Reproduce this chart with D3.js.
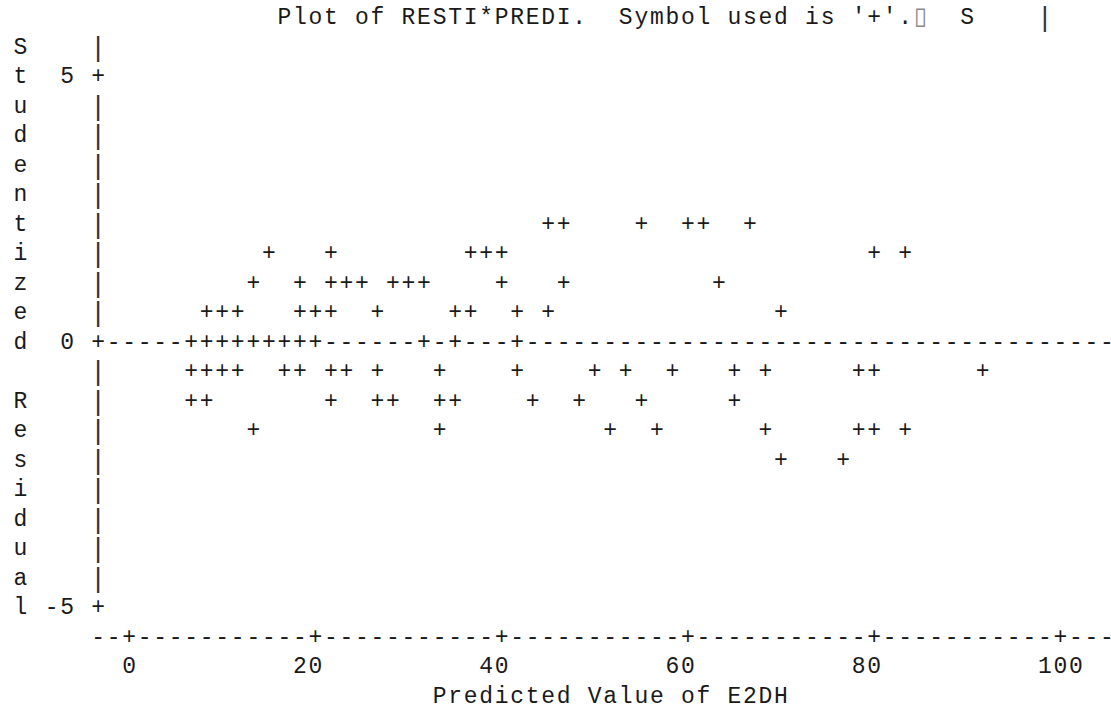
<!DOCTYPE html>
<html>
<head>
<meta charset="utf-8">
<script src="https://cdn.jsdelivr.net/npm/d3@7/dist/d3.min.js"></script>
<style>
  html, body { margin: 0; padding: 0; background: #ffffff; }
  svg { display: block; }
  .ch { font-family: "Courier New", "Nimbus Mono PS", "Liberation Mono", monospace; font-size: 23px; fill: #1a1a1a; }
  .lbl { font-family: "Courier New", "Nimbus Mono PS", "Liberation Mono", monospace; font-size: 23px; fill: #1a1a1a; letter-spacing: 1.72px; }
  .bar { font-family: "Liberation Mono", monospace; font-size: 27px; fill: #333; }
  .box { font-family: "DejaVu Sans", sans-serif; font-size: 24px; fill: #8a8a8a; }
</style>
</head>
<body>
<svg id="plot" width="1111" height="710"></svg>
<script>
// Studentized residuals against predicted values, drawn as PROC PLOT text output.

const titleText = "Plot of RESTI*PREDI.  Symbol used is '+'.";
const titleTail = "\u25AF  S    |";
const yAxisLabel = "Studentized Residual";
const xAxisLabel = "Predicted Value of E2DH";

const xTicks = [0, 20, 40, 60, 80, 100];
const xTickLabels = ["0", "20", "40", "60", "80", "100"];
const yTicks = [5, 0, -5];
const yTickLabels = ["5", "0", "-5"];
const refValue = 0;

// Observations: predicted value and studentized residual
const predicted = [
  45.0, 46.6, 55.1, 60.0, 61.6, 66.8,
  15.1, 21.6, 36.7, 38.4, 40.0, 80.1, 83.3,
  13.4, 18.2, 21.7, 23.4, 25.0, 28.2, 30.1, 31.6, 40.1, 46.7, 63.3,
  8.4, 10.0, 11.6, 18.3, 20.1, 21.7, 26.6, 35.0, 36.8, 41.6, 45.1, 70.0,
  6.7, 8.2, 10.1, 11.7, 13.4, 15.0, 16.6, 18.4, 20.0, 31.6, 35.1, 41.7,
  6.8, 8.3, 10.0, 11.6, 16.7, 18.3, 21.6, 23.4, 26.7, 33.3, 41.7, 50.1, 53.4, 58.3, 65.1, 68.2, 78.4, 80.0, 91.6,
  6.6, 8.4, 21.7, 26.6, 28.4, 33.2, 35.1, 43.3, 48.4, 55.0, 65.0,
  13.2, 33.4, 51.6, 56.7, 68.4, 78.2, 80.1, 83.4,
  70.1, 76.6
];
const residual = [
  2.21, 2.30, 2.12, 2.25, 2.18, 2.34,
  1.70, 1.62, 1.75, 1.58, 1.66, 1.71, 1.60,
  1.08, 1.15, 1.02, 1.20, 1.12, 0.98, 1.06, 1.17, 1.10, 1.04, 1.13,
  0.55, 0.61, 0.49, 0.58, 0.52, 0.63, 0.57, 0.46, 0.60, 0.53, 0.59, 0.51,
  0.12, -0.08, 0.21, -0.15, 0.05, 0.18, -0.22, 0.09, -0.04, 0.14, -0.11, 0.02,
  -0.52, -0.60, -0.47, -0.58, -0.63, -0.55, -0.50, -0.61, -0.57, -0.49, -0.64, -0.53, -0.59, -0.56, -0.62, -0.48, -0.54, -0.60, -0.51,
  -1.09, -1.14, -1.05, -1.18, -1.02, -1.12, -1.20, -1.07, -1.15, -1.10, -1.04,
  -1.66, -1.72, -1.61, -1.69, -1.58, -1.75, -1.64, -1.70,
  -2.20, -2.27
];

// Character grid geometry
const colW = 15.52, rowH = 29.5;
const colPx = d3.scaleLinear().domain([0, 1]).range([20.5, 20.5 + colW]);
const rowPx = d3.scaleLinear().domain([0, 1]).range([341, 341 + rowH]);
const baseShift = 7.5;

// Data scales onto character cells
const axisCol = 5, lastCol = 70;
const xCol = d3.scaleLinear().domain([0, 100]).range([7, 67]);
const yRow = d3.scaleLinear().domain([5, -5]).range([-9, 9]);
const cellCol = v => Math.round(xCol(v));
const cellRow = v => Math.round(yRow(v));
const topRow = cellRow(5) - 1, bottomRow = cellRow(-5);
const xAxisRow = bottomRow + 1;

const svg = d3.select("#plot");
const gText = svg.append("g");

function putChars(str, col, row) {
  const cells = [];
  for (let i = 0; i < str.length; i++) {
    if (str[i] !== " ") cells.push({ c: str[i], col: col + i, row: row });
  }
  gText.selectAll(null).data(cells).enter().append("text")
    .attr("class", d => d.c === "\u25AF" ? "box" : (d.c === "|" ? "bar" : "ch"))
    .attr("x", d => colPx(d.col))
    .attr("y", d => rowPx(d.row) + (d.c === "|" ? 9.5 : baseShift))
    .attr("text-anchor", "middle")
    .text(d => d.c);
}

// Title line
putChars(titleText + titleTail, 17, topRow - 1);

// Vertical axis label, one letter per row
yAxisLabel.split("").forEach((ch, i) => putChars(ch, 0, topRow + i));

// Vertical axis with tick marks
const yTickRows = yTicks.map(cellRow);
for (let r = topRow; r <= bottomRow; r++) {
  putChars(yTickRows.includes(r) ? "+" : "|", axisCol, r);
}
yTicks.forEach((v, i) => {
  const lab = yTickLabels[i];
  putChars(lab, 3 - lab.length + 1, cellRow(v));
});

// Observation cells
const pts = predicted.map((p, i) => ({ col: cellCol(p), row: cellRow(residual[i]) }));
const occupied = new Set(pts.map(d => d.col + ":" + d.row));

// Reference line at zero
const refRow = cellRow(refValue);
let ref = "";
for (let c = axisCol + 1; c <= lastCol; c++) {
  ref += occupied.has(c + ":" + refRow) ? " " : "-";
}
putChars(ref, axisCol + 1, refRow);

// Plot symbols
gText.selectAll(null).data(pts).enter().append("text")
  .attr("class", "ch")
  .attr("x", d => colPx(d.col))
  .attr("y", d => rowPx(d.row) + baseShift)
  .attr("text-anchor", "middle")
  .text("+");

// Horizontal axis with tick marks
const xTickCols = xTicks.map(cellCol);
let axisLine = "";
for (let c = axisCol; c <= lastCol; c++) axisLine += xTickCols.includes(c) ? "+" : "-";
putChars(axisLine, axisCol, xAxisRow);

// Tick values, centred under each tick (even widths lean left)
const tickData = xTicks.map((v, i) => {
  const lab = xTickLabels[i];
  const start = cellCol(v) - Math.floor(lab.length / 2);
  return { lab, mid: start + (lab.length - 1) / 2 };
});
svg.append("g").selectAll("text").data(tickData).enter().append("text")
  .attr("class", "lbl")
  .attr("x", d => colPx(d.mid) + 0.86)
  .attr("y", rowPx(xAxisRow + 1) + baseShift)
  .attr("text-anchor", "middle")
  .text(d => d.lab);

putChars(xAxisLabel, 27, xAxisRow + 2);
</script>
</body>
</html>
